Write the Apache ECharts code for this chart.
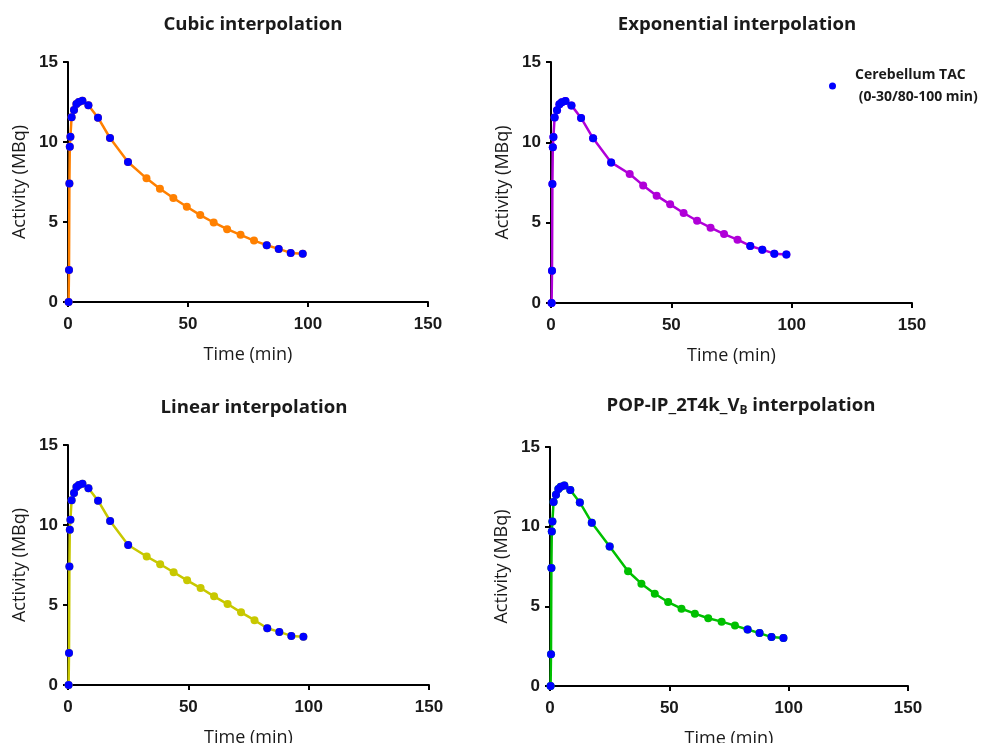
<!DOCTYPE html>
<html>
<head>
<meta charset="utf-8">
<script src="https://cdn.jsdelivr.net/npm/echarts@6/dist/echarts.min.js"></script>
<style>
html,body{margin:0;padding:0;background:#fff;}
#chart{width:992px;height:743px;}
</style>
</head>
<body>
<div id="chart"></div>
<script>
// Measured cerebellum TAC (0-30 / 80-100 min)
const measuredTimes = [0.25, 0.42, 0.58, 0.75, 1, 1.5, 2.5, 3.5, 4.5, 6, 8.5, 12.5, 17.5, 25, 82.8, 87.8, 92.8, 97.8];
const measuredActivity = [0, 2.0, 7.4, 9.7, 10.33, 11.55, 12.0, 12.37, 12.5, 12.58, 12.3, 11.52, 10.25, 8.75, 3.55, 3.32, 3.07, 3.02];

// Interpolated gap (30-80 min)
const interpTimes = [32.7, 38.3, 43.9, 49.5, 55.1, 60.7, 66.3, 71.9, 77.5];
const cubicValues = [7.73, 7.08, 6.5, 5.95, 5.43, 4.97, 4.55, 4.2, 3.84];
const exponentialValues = [8.03, 7.32, 6.68, 6.14, 5.6, 5.12, 4.69, 4.29, 3.94];
const linearValues = [8.03, 7.55, 7.05, 6.54, 6.06, 5.54, 5.06, 4.54, 4.05];
const popValues = [7.2, 6.42, 5.79, 5.27, 4.85, 4.54, 4.25, 4.04, 3.79];

const xTicks = [0, 50, 100, 150];
const yTicks = [0, 5, 10, 15];
const legendName = 'Cerebellum TAC\n (0-30/80-100 min)';

const panels = [
  {title: 'Cubic interpolation', values: cubicValues, color: '#FF8000',
   grid: {left: 68, top: 62, width: 360, height: 240}, tx: 248, ty: 10},
  {title: 'Exponential interpolation', values: exponentialValues, color: '#B000D8',
   grid: {left: 551, top: 62, width: 361, height: 241}, tx: 732, ty: 10},
  {title: 'Linear interpolation', values: linearValues, color: '#C8C800',
   grid: {left: 68, top: 445, width: 361, height: 240}, tx: 249, ty: 393},
  {title: '{t|POP-IP_2T4k_V}{s|B}{t| interpolation}', values: popValues, color: '#00C000',
   grid: {left: 550, top: 447, width: 358, height: 239}, tx: 736, ty: 390, rich: true}
];

function combined(values) {
  const pts = [];
  measuredTimes.forEach((t, i) => pts.push([t, measuredActivity[i]]));
  interpTimes.forEach((t, i) => pts.push([t, values[i]]));
  pts.sort((a, b) => a[0] - b[0]);
  return pts;
}

const measuredPts = measuredTimes.map((t, i) => [t, measuredActivity[i]]);

const option = {
  backgroundColor: '#fff',
  animation: false,
  title: panels.map(p => ({
    text: p.title,
    left: p.tx, top: p.ty, textAlign: 'center',
    textStyle: {
      fontFamily: 'Open Sans', fontWeight: 'bold', fontSize: 18.6, color: '#1a1a1a',
      rich: p.rich ? {
        t: {fontFamily: 'Open Sans', fontWeight: 'bold', fontSize: 18.6, color: '#1a1a1a'},
        s: {fontFamily: 'Open Sans', fontWeight: 'bold', fontSize: 12, color: '#1a1a1a', verticalAlign: 'bottom', padding: [10, 0, 0, 0]}
      } : undefined
    }
  })),
  legend: {
    data: [legendName],
    left: 824, top: 59,
    itemWidth: 7, itemHeight: 7,
    icon: 'circle',
    textStyle: {fontFamily: 'Open Sans', fontWeight: 'bold', fontSize: 14, color: '#1a1a1a', lineHeight: 22, padding: [0, 0, 0, 14]}
  },
  grid: panels.map(p => Object.assign({outerBoundsMode: 'none', containLabel: false}, p.grid)),
  xAxis: panels.map((p, i) => ({
    type: 'value', gridIndex: i, min: xTicks[0], max: xTicks[xTicks.length - 1], interval: 50,
    name: 'Time (min)', nameLocation: 'middle', nameGap: 44,
    nameTextStyle: {fontFamily: 'Open Sans', fontSize: 18, color: '#1a1a1a'},
    axisLine: {show: true, onZero: false, lineStyle: {color: '#000', width: 2}},
    axisTick: {show: true, length: 5, lineStyle: {color: '#000', width: 2}},
    axisLabel: {fontFamily: 'Liberation Sans', fontWeight: 'bold', fontSize: 17, color: '#1a1a1a', margin: 14},
    splitLine: {show: false}
  })),
  yAxis: panels.map((p, i) => ({
    type: 'value', gridIndex: i, min: yTicks[0], max: yTicks[yTicks.length - 1], interval: 5,
    name: 'Activity (MBq)', nameLocation: 'middle', nameGap: 39,
    nameTextStyle: {fontFamily: 'Open Sans', fontSize: 18, color: '#1a1a1a'},
    axisLine: {show: true, onZero: false, lineStyle: {color: '#000', width: 2}},
    axisTick: {show: true, length: 5, lineStyle: {color: '#000', width: 2}},
    axisLabel: {fontFamily: 'Liberation Sans', fontWeight: 'bold', fontSize: 17, color: '#1a1a1a', margin: 10},
    splitLine: {show: false}
  })),
  series: []
};

panels.forEach((p, i) => {
  option.series.push({
    type: 'line', xAxisIndex: i, yAxisIndex: i, name: p.title + ' fit',
    data: combined(p.values),
    symbol: 'circle', symbolSize: 8, showAllSymbol: true,
    lineStyle: {color: p.color, width: 2.5},
    itemStyle: {color: p.color, opacity: 1},
    z: 2
  });
  option.series.push({
    type: 'scatter', xAxisIndex: i, yAxisIndex: i, name: legendName,
    data: measuredPts,
    symbol: 'circle', symbolSize: 8,
    itemStyle: {color: '#0000FF', opacity: 1},
    z: 3
  });
});

const chart = echarts.init(document.getElementById('chart'), null, {renderer: 'canvas'});
chart.setOption(option);
</script>
</body>
</html>
